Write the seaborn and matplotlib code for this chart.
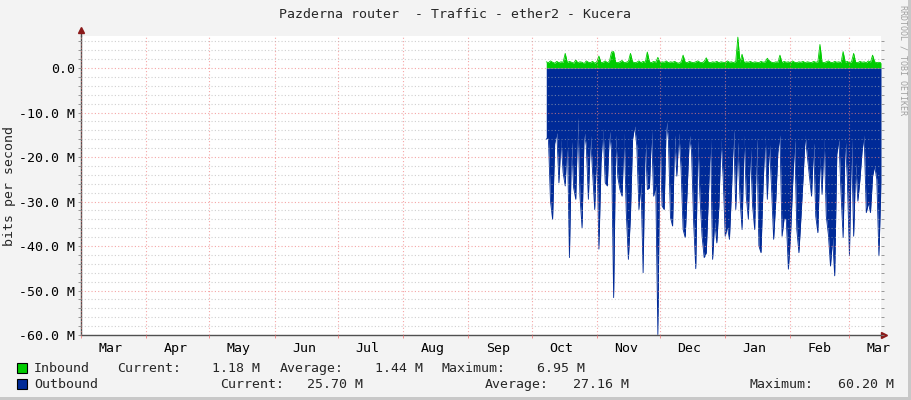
import pandas as pd
import matplotlib
matplotlib.use('Agg')
import matplotlib.pyplot as plt
import matplotlib.dates as mdates
from matplotlib.patches import Rectangle
import seaborn as sns

# ── dados (Mbit/s, um valor por dia, 08/out a 16/mar) ─────────
inbound = [
    1.4, 1.2, 1.6, 1.3, 1.1, 1.5, 1.2, 1.4, 1.3, 3.3,
    1.2, 1.5, 1.3, 1.1, 1.8, 1.2, 1.4, 1.3, 1.0, 1.6,
    1.3, 1.2, 1.5, 1.1, 1.4, 2.7, 1.2, 1.3, 1.6, 1.2,
    1.5, 3.6, 3.7, 1.3, 1.2, 1.4, 1.7, 1.2, 1.3, 1.5,
    3.3, 1.4, 1.2, 1.3, 1.6, 1.2, 1.5, 1.3, 3.6, 1.4,
    1.2, 1.5, 1.3, 2.4, 1.2, 1.4, 1.3, 1.6, 1.2, 1.4,
    1.3, 1.5, 1.2, 1.1, 1.4, 2.9, 1.3, 1.2, 1.5, 1.3,
    1.2, 1.4, 1.6, 1.3, 1.2, 1.5, 2.3, 1.3, 1.2, 1.4,
    1.3, 1.5, 1.2, 1.4, 1.3, 1.2, 1.6, 1.3, 1.4, 1.2,
    1.5, 6.95, 1.3, 3.1, 1.2, 1.4, 1.3, 1.5, 1.2, 1.4,
    1.3, 1.2, 1.5, 1.3, 1.4, 2.2, 1.6, 1.3, 1.2, 1.4,
    1.3, 2.9, 1.2, 1.5, 1.3, 1.4, 1.2, 1.6, 1.3, 1.2,
    1.4, 1.3, 1.5, 1.2, 1.4, 1.3, 1.2, 1.5, 1.3, 1.4,
    5.3, 1.3, 1.2, 1.4, 1.6, 1.3, 1.2, 1.5, 1.3, 1.4,
    1.2, 3.7, 1.3, 1.5, 1.2, 1.4, 3.3, 1.3, 1.2, 1.5,
    1.3, 1.4, 1.2, 1.6, 1.3, 2.9, 1.4, 1.2, 1.3, 1.18,
]

outbound = [
    -16.0, -15.5, -29.9, -34.0, -17.0, -14.5, -25.8, -16.0, -23.5, -26.5,
    -15.0, -42.6, -16.5, -26.9, -29.5, -11.0, -28.8, -35.9, -14.0, -17.5,
    -29.5, -15.0, -23.5, -31.8, -17.5, -40.7, -21.3, -13.5, -25.8, -26.5,
    -14.0, -18.7, -51.6, -15.0, -24.6, -27.3, -28.8, -14.5, -32.5, -43.0,
    -32.9, -16.0, -13.0, -17.5, -31.8, -25.8, -46.0, -15.0, -27.3, -26.9,
    -14.0, -28.8, -26.5, -59.9, -14.0, -31.0, -31.8, -11.5, -16.0, -33.6,
    -35.5, -15.0, -24.3, -14.5, -22.4, -36.3, -38.1, -26.5, -15.0, -18.7,
    -34.8, -45.1, -16.0, -28.8, -37.8, -42.6, -41.5, -29.1, -15.5, -43.0,
    -34.4, -39.3, -31.0, -16.0, -24.3, -37.8, -35.5, -38.5, -27.3, -13.8,
    -31.8, -16.5, -29.1, -36.3, -15.0, -28.8, -34.0, -17.9, -31.0, -36.3,
    -15.5, -40.0, -41.5, -26.1, -15.0, -29.5, -16.8, -26.9, -38.5, -29.9,
    -19.0, -15.0, -37.8, -33.6, -34.0, -45.2, -37.8, -26.5, -16.0, -36.3,
    -41.5, -33.3, -24.6, -15.0, -19.8, -24.3, -28.8, -16.8, -33.3, -37.0,
    -19.8, -28.4, -15.5, -33.3, -37.4, -44.5, -38.1, -46.7, -19.4, -16.0,
    -28.0, -38.1, -15.3, -25.0, -42.2, -16.0, -37.8, -21.3, -29.9, -25.0,
    -18.7, -15.0, -32.5, -30.3, -32.5, -24.3, -22.0, -25.0, -42.2, -25.7,
]

y_ticks = [0, -10, -20, -30, -40, -50, -60]
y_labels = ['0.0', '-10.0 M', '-20.0 M', '-30.0 M', '-40.0 M', '-50.0 M', '-60.0 M']

legend_names = ['Inbound', 'Outbound']
legend_current = ['1.18 M', '25.70 M']
legend_average = ['1.44 M', '27.16 M']
legend_maximum = ['6.95 M', '60.20 M']

dias = pd.date_range('2022-10-08', periods=len(outbound), freq='D')
df = pd.DataFrame({'dia': dias, 'inbound': inbound, 'outbound': outbound})

cor_in = '#00CC00'
cor_out = '#002A97'
fundo = '#F3F3F3'
mono = 'DejaVu Sans Mono'

sns.set_theme(style='white')
plt.rcParams['font.family'] = [mono]

W, H = 911, 400
fig = plt.figure(figsize=(W / 100, H / 100), dpi=100, facecolor=fundo)
ax = fig.add_axes([81 / W, 1 - 335 / H, 800 / W, 299 / H])
ax.set_facecolor('white')


def px(x, y):
    return x / W, 1 - y / H


# ── áreas ────────────────────────────────────────────────────
ax.fill_between(df['dia'], 0, df['inbound'], color=cor_in, lw=0, zorder=1)
ax.fill_between(df['dia'], 0, df['outbound'], color=cor_out, lw=0, zorder=1)
sns.lineplot(data=df, x='dia', y='inbound', color=cor_in, lw=0.6, ax=ax, zorder=1.5)
sns.lineplot(data=df, x='dia', y='outbound', color=cor_out, lw=0.6, ax=ax, zorder=1.5)

ax.set_xlim(pd.Timestamp('2022-03-01'), pd.Timestamp('2023-03-16'))
ax.set_ylim(-60, 7.2)

# ── grade ────────────────────────────────────────────────────
ax.set_yticks(y_ticks)
ax.set_yticklabels(y_labels)
ax.set_yticks(list(range(6, -60, -2)), minor=True)
ax.xaxis.set_major_locator(mdates.MonthLocator())
ax.xaxis.set_major_formatter(plt.NullFormatter())
ax.xaxis.set_minor_locator(mdates.MonthLocator(bymonthday=15))
ax.xaxis.set_minor_formatter(mdates.DateFormatter('%b'))

ax.set_axisbelow(False)
ax.grid(True, which='minor', axis='y', color='#B0B0B0', alpha=0.6,
        linestyle=(0, (1, 2)), lw=0.8)
ax.grid(True, which='major', axis='y', color='#F08080', alpha=0.7,
        linestyle=(0, (1, 2)), lw=0.8)
ax.grid(True, which='major', axis='x', color='#F08080', alpha=0.7,
        linestyle=(0, (1, 2)), lw=0.8)

ax.tick_params(axis='y', which='both', direction='out', length=2, width=0.6,
               colors='#888888', labelcolor='black', labelsize=9.5, pad=2,
               right=True, left=True)
ax.tick_params(axis='x', which='major', direction='out', length=2, width=0.6,
               colors='#F08080', bottom=True)
ax.tick_params(axis='x', which='minor', length=0, labelsize=9.5, pad=5,
               labelcolor='black', bottom=True)

for s in ['top', 'right']:
    ax.spines[s].set_visible(False)
for s in ['left', 'bottom']:
    ax.spines[s].set_color('#505050')
    ax.spines[s].set_linewidth(1.0)

# setas dos eixos
ax.plot([0, 0], [1.0, 1.02], transform=ax.transAxes, color='#505050',
        lw=1.0, clip_on=False)
ax.plot([1.0, 1.004], [0, 0], transform=ax.transAxes, color='#505050',
        lw=1.0, clip_on=False)
ax.plot([0], [1.02], marker='^', ms=5, color='#8B1A1A',
        transform=ax.transAxes, clip_on=False)
ax.plot([1.004], [0], marker='>', ms=5, color='#8B1A1A',
        transform=ax.transAxes, clip_on=False)

ax.set_xlabel('')
ax.set_ylabel('')

# ── textos ───────────────────────────────────────────────────
fig.text(*px(455, 15), 'Pazderna router  - Traffic - ether2 - Kucera',
         ha='center', va='center', fontsize=9.5, family=mono)
fig.text(*px(10, 186), 'bits per second', rotation=90,
         ha='center', va='center', fontsize=9.5, family=mono)
fig.text(*px(903, 60), 'RRDTOOL / TOBI OETIKER', rotation=270,
         ha='center', va='center', fontsize=6, color='#A0A0A0', family=mono)

# legenda no estilo rrdtool
cores = [cor_in, cor_out]
linhas_y = [372, 388]   # linha de base do texto
pos_x = [
    (117, 212, 280, 375, 441, 537),
    (220, 307, 485, 573, 750, 838),
]
for i in range(2):
    y = linhas_y[i]
    fig.patches.append(Rectangle(px(17, y + 1), 10 / W, 10 / H,
                                 transform=fig.transFigure, facecolor=cores[i],
                                 edgecolor='black', lw=0.8))
    fig.text(*px(34, y), legend_names[i], va='baseline', fontsize=9.5, family=mono)
    pedacos = ['Current:', legend_current[i], 'Average:', legend_average[i],
               'Maximum:', legend_maximum[i]]
    for x, t in zip(pos_x[i], pedacos):
        fig.text(*px(x, y), t, va='baseline', fontsize=9.5, family=mono)

# moldura
fig.patches.append(Rectangle((1 - 3 / W, 0), 3 / W, 1, transform=fig.transFigure,
                             facecolor='#C8C8C8', lw=0))
fig.patches.append(Rectangle((0, 0), 1, 3 / H, transform=fig.transFigure,
                             facecolor='#C8C8C8', lw=0))

fig.savefig('out.png', dpi=100, facecolor=fundo)
